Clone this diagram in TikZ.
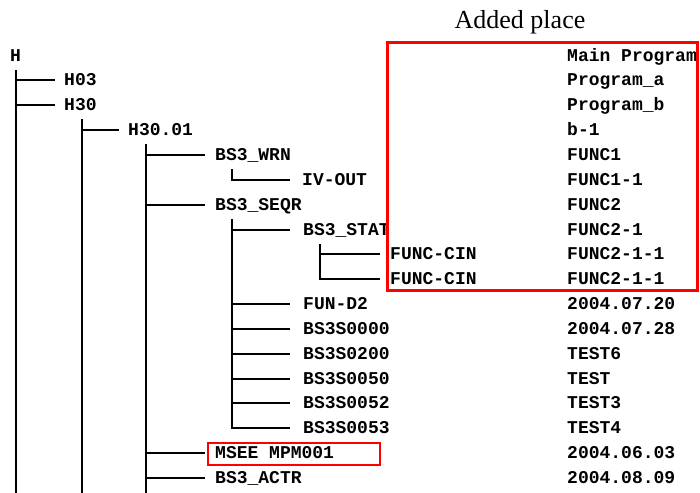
\documentclass[tikz,border=0pt]{standalone}
\usepackage{fontspec}
\setmainfont{Liberation Serif}
\newfontfamily\treefont{Liberation Mono}
\usetikzlibrary{fit}
\tikzset{
  item/.style   = {anchor=west, inner sep=0pt, text height=10.3pt, text depth=0pt,
                   font=\fontsize{18}{20}\selectfont\treefont\bfseries},
  branch/.style = {line width=1.8pt, black},
  hibox/.style  = {draw=red, line width=3pt, inner sep=0pt},
}

\begin{document}
\begin{tikzpicture}[x=1pt, y=-1pt]
  \useasboundingbox (0,0) rectangle (700,492);

  % -- tree column
  \node[item] (h)     at (10,56)  {H};
  \node[item] (h03)   at (64,80)  {H03};
  \node[item] (h30)   at (64,105) {H30};
  \node[item] (h3001) at (128,130) {H30.01};
  \node[item] (wrn)   at (215,155) {BS3\_WRN};
  \node[item] (ivout) at (302,180) {IV-OUT};
  \node[item] (seqr)  at (215,205) {BS3\_SEQR};
  \node[item] (stat)  at (303,230) {BS3\_STAT};
  \node[item] (cina)  at (390,254) {FUNC-CIN};
  \node[item] (cinb)  at (390,279) {FUNC-CIN};
  \node[item] (fund)  at (303,304) {FUN-D2};
  \node[item] (s0000) at (303,329) {BS3S0000};
  \node[item] (s0200) at (303,354) {BS3S0200};
  \node[item] (s0050) at (303,379) {BS3S0050};
  \node[item] (s0052) at (303,403) {BS3S0052};
  \node[item] (s0053) at (303,428) {BS3S0053};
  \node[item] (mpm)   at (215,453) {MSEE MPM001};
  \node[item] (actr)  at (215,478) {BS3\_ACTR};

  % -- right column
  \foreach \t/\y [count=\i from 0] in {Main Program/56, Program\_a/80, Program\_b/105,
      b-1/130, FUNC1/155, FUNC1-1/180, FUNC2/205, FUNC2-1/230, FUNC2-1-1/254,
      FUNC2-1-1/279, 2004.07.20/304, 2004.07.28/329, TEST6/354, TEST/379,
      TEST3/403, TEST4/428, 2004.06.03/453, 2004.08.09/478}
    \node[item] (r\i) at (567,\y) {\t};

  % -- branches
  \foreach \c in {h03,h30}
    \draw[branch] ([xshift=6pt,yshift=-9pt]h.south west) |- ([xshift=-9pt]\c.west);
  \draw[branch] ([xshift=18pt,yshift=-9pt]h30.south west) |- ([xshift=-9pt]h3001.west);
  \foreach \c in {wrn,seqr,mpm,actr}
    \draw[branch] ([xshift=18pt,yshift=-9pt]h3001.south west) |- ([xshift=-10pt]\c.west);
  \draw[branch] ([xshift=17pt,yshift=-9pt]wrn.south west) |- ([xshift=-12pt]ivout.west);
  \foreach \c in {stat,fund,s0000,s0200,s0050,s0052,s0053}
    \draw[branch] ([xshift=17pt,yshift=-9pt]seqr.south west) |- ([xshift=-13pt]\c.west);
  \foreach \c in {cina,cinb}
    \draw[branch] ([xshift=17pt,yshift=-9pt]stat.south west) |- ([xshift=-10pt]\c.west);

  % -- trunks running on below the page
  \draw[branch] ([xshift=6pt,yshift=-9pt]h.south west)      -- ++(0,440);
  \draw[branch] ([xshift=18pt,yshift=-9pt]h30.south west)   -- ++(0,400);
  \draw[branch] ([xshift=18pt,yshift=-9pt]h3001.south west) -- ++(0,380);

  % -- highlights
  \node[hibox, fit={(387,43) (697,290)}] (added) {};
  \node[font=\fontsize{26}{30}\selectfont] (addlbl) at (520,22) {Added place};
  \node[hibox, line width=2.5pt, fit={(208,443) (380,465)}] (mpmbox) {};

\end{tikzpicture}
\end{document}
